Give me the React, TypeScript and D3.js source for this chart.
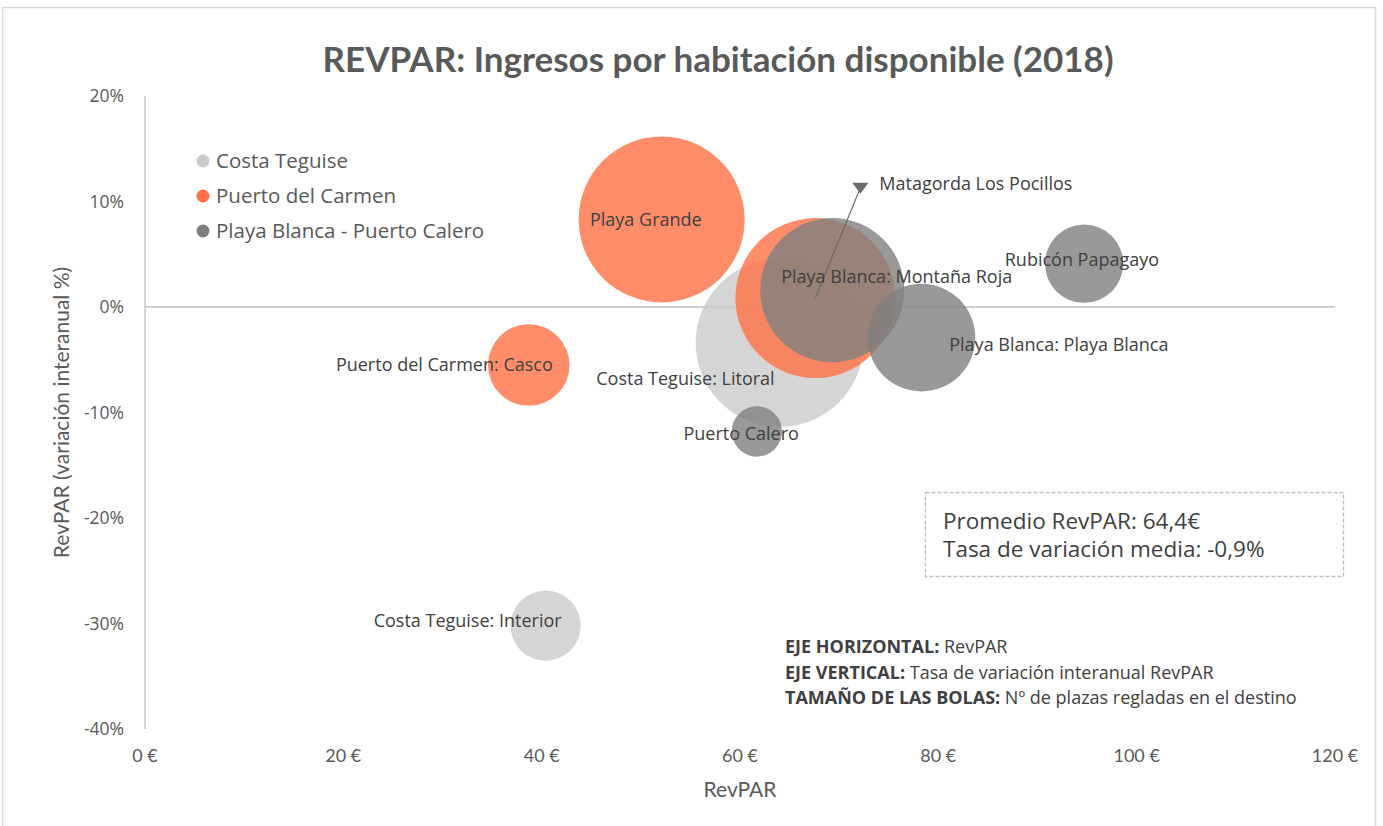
import React, { useEffect, useRef } from "react";
import * as d3 from "d3";

// series (destinations)
const seriesNames = ["Costa Teguise", "Puerto del Carmen", "Playa Blanca - Puerto Calero"];
const seriesColors = ["#cccaca", "#ff7044", "#7f7f7f"];

// one entry per zone
const zoneNames = [
  "Costa Teguise: Litoral",
  "Costa Teguise: Interior",
  "Playa Grande",
  "Puerto del Carmen: Casco",
  "Matagorda Los Pocillos",
  "Playa Blanca: Montaña Roja",
  "Playa Blanca: Playa Blanca",
  "Rubicón Papagayo",
  "Puerto Calero",
];
const zoneSeries = [0, 0, 1, 1, 1, 2, 2, 2, 2];
const revpar = [64.0, 40.4, 52.1, 38.7, 67.6, 69.3, 78.3, 94.7, 61.7];
const variacion = [-3.4, -30.2, 8.3, -5.5, 0.85, 1.6, -2.9, 4.1, -11.8];
const plazas = [21200, 3700, 20700, 5000, 19200, 15600, 8700, 4600, 1900];

const xTicks = [0, 20, 40, 60, 80, 100, 120];
const yTicks = [20, 10, 0, -10, -20, -30, -40];

// label placement relative to bubble centre (anchor end)
const labelOffsets: [number, number][] = [
  [-5, 36],
  [16, -5],
  [40, 0],
  [24, 0],
  [0, 0],
  [180, -13],
  [247, 7],
  [75, -4],
  [42, 2],
];

const FONT = "'Open Sans', sans-serif";
const AXFONT = "Lato, sans-serif";
const TEXT = "#595959";

export default function App() {
  const ref = useRef<SVGSVGElement>(null);

  useEffect(() => {
    document.body.style.margin = "0";
    const svg = d3.select(ref.current);
    svg.selectAll("*").remove();
    const W = 1383, H = 826;
    svg.attr("width", W).attr("height", H);

    svg.append("rect").attr("x", 2.5).attr("y", 7.5).attr("width", 1373).attr("height", 830)
      .attr("fill", "#fff").attr("stroke", "#d9d9d9").attr("stroke-width", 1.5);

    const x = d3.scaleLinear().domain([0, 120]).range([145, 1335]);
    const y = d3.scaleLinear().domain([-40, 20]).range([729, 96]);
    const r = d3.scaleSqrt().domain([0, d3.max(plazas) as number]).range([0, 84]);

    svg.append("text").attr("x", 718).attr("y", 72).attr("text-anchor", "middle")
      .attr("font-family", AXFONT).attr("font-weight", "bold").attr("font-size", 35)
      .attr("fill", TEXT).text("REVPAR: Ingresos por habitación disponible (2018)");

    // axes lines
    svg.append("line").attr("x1", x(0)).attr("x2", x(0)).attr("y1", y(20)).attr("y2", y(-40))
      .attr("stroke", "#bfbfbf").attr("stroke-width", 1.3);
    svg.append("line").attr("x1", x(0)).attr("x2", x(120)).attr("y1", y(0)).attr("y2", y(0))
      .attr("stroke", "#bfbfbf").attr("stroke-width", 1.3);

    svg.append("g").selectAll("text").data(yTicks).join("text")
      .attr("x", 124).attr("y", (d) => y(d)).attr("dy", "0.35em").attr("text-anchor", "end")
      .attr("font-family", FONT).attr("font-size", 17.5).attr("fill", TEXT)
      .text((d) => `${d}%`);
    svg.append("g").selectAll("text").data(xTicks).join("text")
      .attr("x", (d) => x(d)).attr("y", 756).attr("dy", "0.35em").attr("text-anchor", "middle")
      .attr("font-family", AXFONT).attr("font-size", 18).attr("fill", TEXT)
      .text((d) => `${d} €`);

    svg.append("text").attr("x", 740).attr("y", 790).attr("dy", "0.35em").attr("text-anchor", "middle")
      .attr("font-family", AXFONT).attr("font-size", 21).attr("fill", TEXT).text("RevPAR");
    svg.append("text").attr("transform", `translate(62,${(y(20) + y(-40)) / 2}) rotate(-90)`)
      .attr("dy", "0.35em").attr("text-anchor", "middle")
      .attr("font-family", AXFONT).attr("font-size", 21).attr("fill", TEXT)
      .text("RevPAR (variación interanual %)");

    // bubbles
    const idx = d3.range(zoneNames.length);
    const order = [...idx].sort((a, b) => zoneSeries[a] - zoneSeries[b]);
    svg.append("g").selectAll("circle").data(order).join("circle")
      .attr("cx", (i) => x(revpar[i])).attr("cy", (i) => y(variacion[i])).attr("r", (i) => r(plazas[i]))
      .attr("fill", (i) => seriesColors[zoneSeries[i]]).attr("fill-opacity", 0.8);

    // leader line for Matagorda
    const mi = 4;
    const mx = x(revpar[mi]), my = y(variacion[mi]);
    const ex = mx + 45, ey = y(11.3);
    svg.append("line").attr("x1", mx).attr("y1", my).attr("x2", ex).attr("y2", ey)
      .attr("stroke", "#6b6b6b").attr("stroke-width", 1.2);
    svg.append("path").attr("d", `M${ex - 8},${ey - 5}L${ex + 8},${ey - 5}L${ex},${ey + 6}Z`)
      .attr("fill", "#6b6b6b");
    svg.append("text").attr("x", ex + 19).attr("y", ey - 4).attr("dy", "0.35em")
      .attr("font-family", FONT).attr("font-size", 18).attr("fill", "#404040").text(zoneNames[mi]);

    svg.append("g").selectAll("text").data(idx.filter((i) => i !== mi)).join("text")
      .attr("x", (i) => x(revpar[i]) + labelOffsets[i][0])
      .attr("y", (i) => y(variacion[i]) + labelOffsets[i][1])
      .attr("dy", "0.35em").attr("text-anchor", "end")
      .attr("font-family", FONT).attr("font-size", 18).attr("fill", "#404040")
      .text((i) => zoneNames[i]);

    // legend
    const lg = svg.append("g").selectAll("g").data(seriesNames).join("g")
      .attr("transform", (_, i) => `translate(203,${161 + i * 35})`);
    lg.append("circle").attr("r", 6.5).attr("fill", (_, i) => seriesColors[i]);
    lg.append("text").attr("x", 13).attr("dy", "0.35em").attr("font-family", FONT)
      .attr("font-size", 20.5).attr("fill", TEXT).text((d) => d);

    // summary box
    svg.append("rect").attr("x", 925.5).attr("y", 492.5).attr("width", 418).attr("height", 84)
      .attr("fill", "none").attr("stroke", "#bfbfbf").attr("stroke-dasharray", "4,2").attr("stroke-width", 1.3);
    const box = ["Promedio RevPAR: 64,4€", "Tasa de variación media: -0,9%"];
    svg.append("g").selectAll("text").data(box).join("text")
      .attr("x", 943).attr("y", (_, i) => 521 + i * 28).attr("dy", "0.35em")
      .attr("font-family", FONT).attr("font-size", 22.5).attr("fill", "#404040").text((d) => d);

    // notes
    const notesBold = ["EJE HORIZONTAL:", "EJE VERTICAL:", "TAMAÑO DE LAS BOLAS:"];
    const notesText = [" RevPAR", " Tasa de variación interanual RevPAR", " Nº de plazas regladas en el destino"];
    const nt = svg.append("g").selectAll("text").data(notesBold).join("text")
      .attr("x", 785).attr("y", (_, i) => 647 + i * 25.5).attr("dy", "0.35em")
      .attr("font-family", FONT).attr("font-size", 18).attr("fill", "#404040");
    nt.append("tspan").attr("font-weight", "bold").text((d) => d);
    nt.append("tspan").text((_, i) => notesText[i]);
  }, []);

  return <svg ref={ref} style={{ display: "block" }} />;
}
